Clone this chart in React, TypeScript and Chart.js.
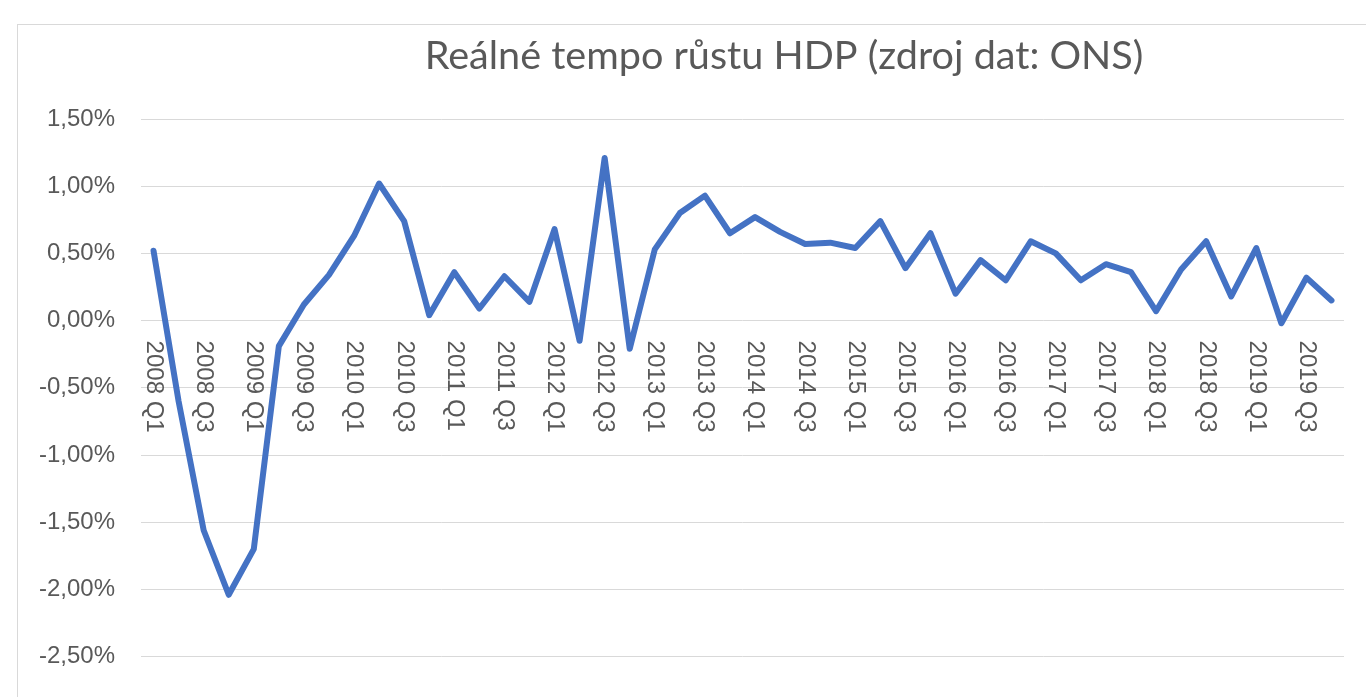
import React, { useEffect, useRef } from "react";
import { Chart, registerables } from "chart.js";

Chart.register(...registerables);

const chartTitle = "Reálné tempo růstu HDP (zdroj dat: ONS)";

const categories = [
  "2008 Q1", "2008 Q2", "2008 Q3", "2008 Q4",
  "2009 Q1", "2009 Q2", "2009 Q3", "2009 Q4",
  "2010 Q1", "2010 Q2", "2010 Q3", "2010 Q4",
  "2011 Q1", "2011 Q2", "2011 Q3", "2011 Q4",
  "2012 Q1", "2012 Q2", "2012 Q3", "2012 Q4",
  "2013 Q1", "2013 Q2", "2013 Q3", "2013 Q4",
  "2014 Q1", "2014 Q2", "2014 Q3", "2014 Q4",
  "2015 Q1", "2015 Q2", "2015 Q3", "2015 Q4",
  "2016 Q1", "2016 Q2", "2016 Q3", "2016 Q4",
  "2017 Q1", "2017 Q2", "2017 Q3", "2017 Q4",
  "2018 Q1", "2018 Q2", "2018 Q3", "2018 Q4",
  "2019 Q1", "2019 Q2", "2019 Q3", "2019 Q4",
];

const gdpGrowth = [
  0.52, -0.60, -1.56, -2.04,
  -1.70, -0.19, 0.12, 0.34,
  0.63, 1.02, 0.74, 0.04,
  0.36, 0.09, 0.33, 0.14,
  0.68, -0.15, 1.21, -0.21,
  0.53, 0.80, 0.93, 0.65,
  0.77, 0.66, 0.57, 0.58,
  0.54, 0.74, 0.39, 0.65,
  0.20, 0.45, 0.30, 0.59,
  0.50, 0.30, 0.42, 0.36,
  0.07, 0.38, 0.59, 0.18,
  0.54, -0.02, 0.32, 0.15,
];

const yTickValues = [-2.5, -2.0, -1.5, -1.0, -0.5, 0, 0.5, 1.0, 1.5];
const yTickLabels = ["-2,50%", "-2,00%", "-1,50%", "-1,00%", "-0,50%", "0,00%", "0,50%", "1,00%", "1,50%"];

const TEXT = "#595959";
const GRID = "#d9d9d9";
const LINE = "#4472C4";
const TICK_FONT = '"Liberation Sans", Arial, Helvetica, sans-serif';
const TITLE_FONT = 'Lato, "Open Sans", sans-serif';

const decorPlugin = {
  id: "decor",
  beforeDraw(chart: any) {
    const { ctx } = chart;
    ctx.save();
    ctx.fillStyle = "#ffffff";
    ctx.fillRect(0, 0, chart.width, chart.height);
    ctx.strokeStyle = GRID;
    ctx.lineWidth = 1;
    ctx.strokeRect(17.5, 24.5, 3000, 3000);
    ctx.fillStyle = TEXT;
    ctx.font = `39.6px ${TITLE_FONT}`;
    ctx.textAlign = "center";
    ctx.textBaseline = "alphabetic";
    ctx.fillText(chartTitle, 784, 69);
    ctx.restore();
  },
  beforeDatasetsDraw(chart: any) {
    const { ctx, scales } = chart;
    const xs = scales.x;
    const ys = scales.y;
    const y0 = ys.getPixelForValue(0);
    ctx.save();
    ctx.font = `24px ${TICK_FONT}`;
    ctx.fillStyle = TEXT;
    ctx.textAlign = "left";
    ctx.textBaseline = "middle";
    categories.forEach((lab, i) => {
      if (i % 2 !== 0) return;
      const px = xs.getPixelForValue(i);
      ctx.save();
      ctx.translate(px, y0 + 20);
      ctx.rotate(Math.PI / 2);
      ctx.fillText(lab, 0, 0);
      ctx.restore();
    });
    ctx.restore();
  },
};

export default function App() {
  const ref = useRef<HTMLCanvasElement | null>(null);

  useEffect(() => {
    if (!ref.current) return;
    const chart = new Chart(ref.current, {
      type: "line",
      data: {
        labels: categories,
        datasets: [
          {
            data: gdpGrowth,
            borderColor: LINE,
            backgroundColor: LINE,
            borderWidth: 6,
            borderJoinStyle: "round",
            borderCapStyle: "round",
            pointRadius: 0,
            pointHoverRadius: 0,
            tension: 0,
            fill: false,
          },
        ],
      },
      options: {
        responsive: false,
        animation: false,
        devicePixelRatio: 1,
        layout: { padding: { left: 17, top: 119, right: 22, bottom: 37 } },
        plugins: {
          legend: { display: false },
          title: { display: false },
          tooltip: { enabled: false },
        },
        scales: {
          x: {
            type: "category",
            display: false,
            offset: true,
            grid: { display: false, drawTicks: false },
          },
          y: {
            min: -2.5,
            max: 1.5,
            afterBuildTicks: (s: any) => {
              s.ticks = yTickValues.map((v) => ({ value: v }));
            },
            afterFit: (s: any) => {
              s.width = 124;
            },
            ticks: {
              callback: (_v: any, i: number) => yTickLabels[i],
              font: { size: 24, family: TICK_FONT },
              color: TEXT,
              padding: 26,
            },
            grid: { color: GRID, lineWidth: 1, drawTicks: false },
            border: { display: false },
          },
        },
      },
      plugins: [decorPlugin],
    });
    return () => chart.destroy();
  }, []);

  return (
    <div
      style={{
        position: "fixed",
        left: 0,
        top: 0,
        width: 1366,
        height: 697,
        overflow: "hidden",
        background: "#ffffff",
      }}
    >
      <canvas ref={ref} width={1366} height={697} style={{ display: "block", width: 1366, height: 697 }} />
    </div>
  );
}
